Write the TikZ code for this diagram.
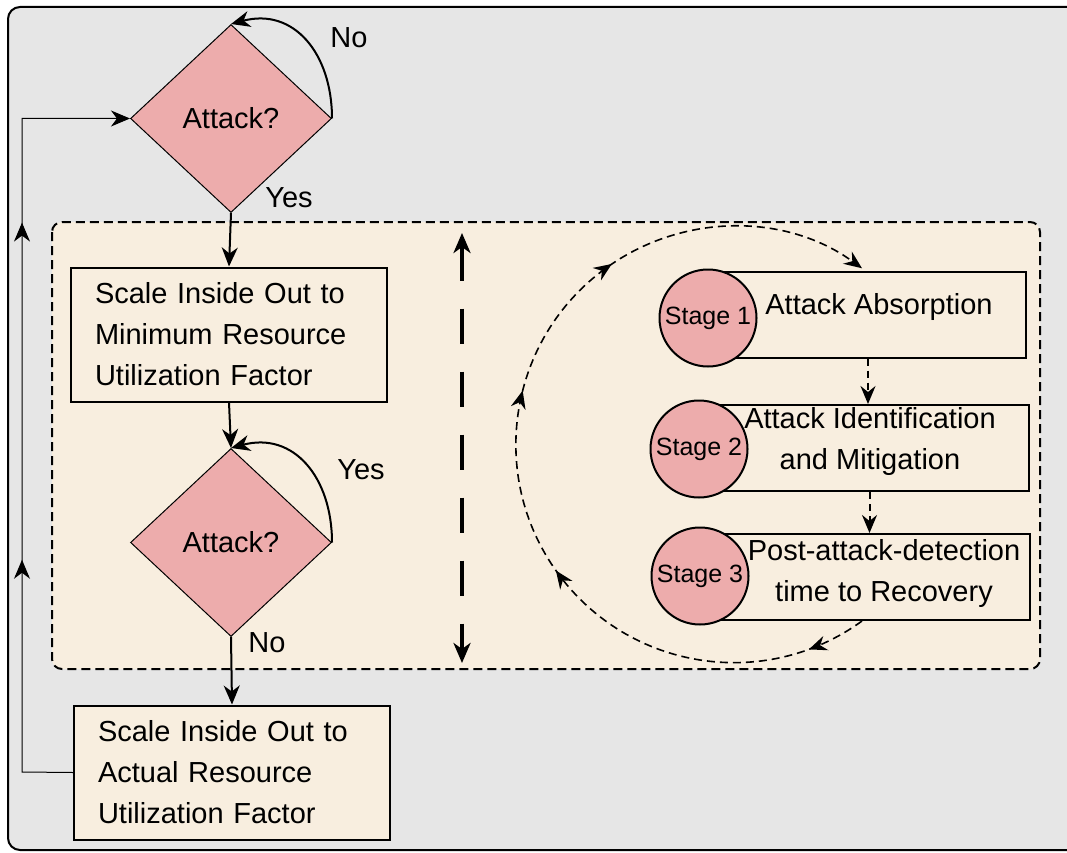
\documentclass[tikz,border=0pt]{standalone}
\usepackage{fontspec}
\setmainfont{Liberation Sans}
\usetikzlibrary{arrows.meta,shapes.geometric,decorations.markings}
\definecolor{panelgray}{HTML}{E6E6E6}
\definecolor{zonecream}{HTML}{F8EEDF}
\definecolor{alertpink}{HTML}{EDACAC}

\begin{document}
\begin{tikzpicture}[x=1pt,y=-1pt,line width=1pt,
  txt/.style={font=\fontsize{29}{41}\selectfont},
  decide/.style={diamond,draw,line width=1pt,fill=alertpink,minimum width=201pt,minimum height=188pt,inner sep=0pt,txt},
  stepbox/.style={draw,line width=2pt,fill=zonecream,txt,align=left,text width=268pt,minimum width=316pt,minimum height=134pt,inner xsep=0pt},
  stagebox/.style={draw,line width=2pt,fill=zonecream,minimum height=86pt,inner sep=0pt},
  stagedot/.style={circle,draw,line width=2pt,fill=alertpink,minimum size=97pt,inner sep=0pt,font=\fontsize{25}{30}\selectfont},
  headed/.style={-{Stealth[length=19pt,width=16pt,inset=6pt]}},
  flow/.style={line width=2pt,headed},
  back/.style={line width=1pt,headed,postaction={decorate},decoration={markings,
    mark=at position 0.324 with {\arrow{Stealth[length=19pt,width=16pt,inset=6pt]}},
    mark=at position 0.739 with {\arrow{Stealth[length=19pt,width=16pt,inset=6pt]}}}},
  hop/.style={line width=2pt,dash pattern=on 7pt off 5pt,-{Stealth[length=18pt,width=15pt,inset=6pt]}},
  ring/.style={line width=1.6pt,dash pattern=on 8pt off 5pt,-{Stealth[length=18pt,width=15pt,inset=6pt]},
    postaction={decorate},decoration={markings,
    mark=at position 0.063 with {\arrow{Stealth[length=18pt,width=15pt,inset=6pt]}},
    mark=at position 0.36 with {\arrow{Stealth[length=18pt,width=15pt,inset=6pt]}},
    mark=at position 0.557 with {\arrow{Stealth[length=18pt,width=15pt,inset=6pt]}},
    mark=at position 0.722 with {\arrow{Stealth[length=18pt,width=15pt,inset=6pt]}}}},
  divider/.style={line width=3.5pt,dash pattern=on 35pt off 28pt,{Stealth[length=20pt,width=17pt,inset=6pt]}-{Stealth[length=20pt,width=17pt,inset=6pt]}}]
\path[use as bounding box] (0,0) rectangle (1067,853);
\draw[line width=2pt,fill=panelgray,rounded corners=12pt] (8,7) rectangle (1100,850);
\draw[line width=2pt,dash pattern=on 9pt off 5pt,fill=zonecream,rounded corners=10pt] (52,222) rectangle (1040,669);

\node[decide] (q1) at (231,118.5) {Attack?};
\node[stepbox] (scalemin) at (229,334.5) {Scale Inside Out to\\Minimum Resource\\Utilization Factor};
\node[decide] (q2) at (231,542.5) {Attack?};
\node[stepbox] (scaleact) at (232,772.5) {Scale Inside Out to\\Actual Resource\\Utilization Factor};

\draw[flow] (q1.south) -- (scalemin.north);
\draw[flow] (q1.east) to[out=90,in=15,looseness=1.2] (q1.north);
\draw[flow] (scalemin.south) -- (q2.north);
\draw[flow] (q2.east) to[out=90,in=15,looseness=1.2] (q2.north);
\draw[flow] (q2.south) -- (scaleact.north);
\coordinate (turn) at (22,772);
\draw[back] (scaleact.west) -- (turn) |- (q1.west);

\node[txt] (no1) at (349,38) {No};
\node[txt] (yes1) at (289,198) {Yes};
\node[txt] (yes2) at (361,470) {Yes};
\node[txt] (no2) at (267,643) {No};

\coordinate (splittop) at (462,233);
\coordinate (splitbot) at (462,663);
\draw[divider] (splittop) -- (splitbot);

\node[stagebox,minimum width=316pt] (absorb) at (868,314.5) {};
\node[stagebox,minimum width=319pt] (ident) at (869.5,448) {};
\node[stagebox,minimum width=320pt] (recover) at (870,577) {};
\node[stagedot] (st1) at (708,318) {Stage 1};
\node[stagedot] (st2) at (699,449) {Stage 2};
\node[stagedot] (st3) at (700,576) {Stage 3};
\node[txt,align=center] (t1) at (879,307) {Attack Absorption};
\node[txt,align=center] (t2) at (870,441) {Attack Identification\\and Mitigation};
\node[txt,align=center] (t3) at (884,573) {Post-attack-detection\\time to Recovery};

\draw[hop] (absorb.south) -- (absorb.south |- ident.north);
\draw[hop] (ident.south) -- (ident.south |- recover.north);
\coordinate (loopstart) at (862,621);
\draw[ring] (loopstart) arc[start angle=54,end angle=306,radius=218];
\end{tikzpicture}
\end{document}
